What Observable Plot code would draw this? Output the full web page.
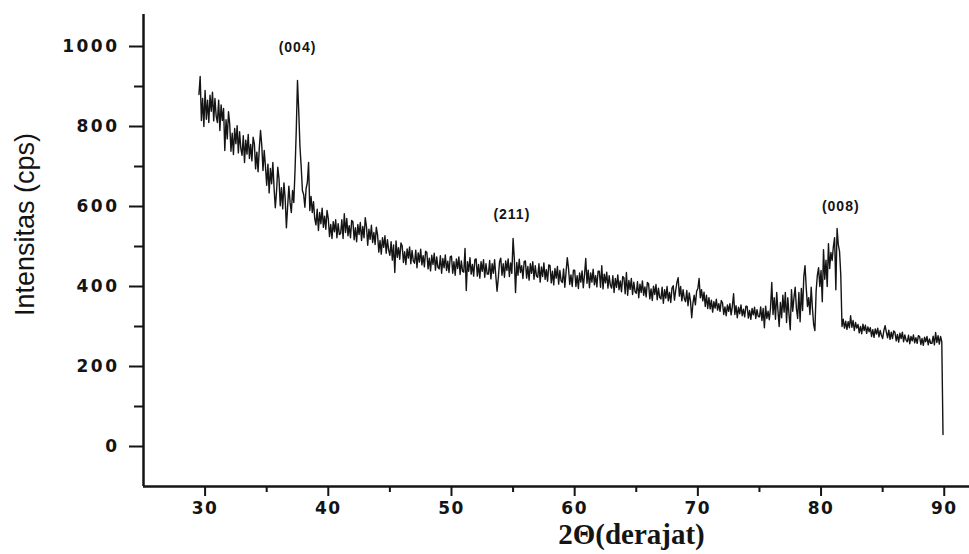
<!DOCTYPE html>
<html>
<head>
<meta charset="utf-8">
<script src="https://cdn.jsdelivr.net/npm/d3@7"></script>
<script src="https://cdn.jsdelivr.net/npm/@observablehq/plot@0.6"></script>
<style>
  html, body { margin: 0; padding: 0; background: #fff; }
  #chart svg { display: block; }
  g[aria-label="y-axis tick label"] text { letter-spacing: 2.5px; }
  g[aria-label="x-axis tick label"] text { letter-spacing: 1.5px; }
  g.peak-labels text { letter-spacing: 1px; }
</style>
</head>
<body>
<div id="chart"></div>
<script>
// XRD pattern, sampled every 0.1 degree starting at 29.5
const startAngle = 29.5;
const stepAngle = 0.1;
const intensity = [
880, 925, 815, 870, 800,
890, 818, 866, 810, 878, 838, 886, 814, 870, 826,
810, 866, 790, 854, 815, 845, 740, 817, 769, 837,
806, 738, 783, 730, 795, 757, 802, 734, 787, 745,
728, 777, 710, 766, 731, 780, 720, 755, 714, 773,
757, 694, 736, 687, 746, 790, 753, 690, 740, 700,
653, 706, 634, 695, 657, 710, 645, 597, 638, 698,
670, 602, 647, 594, 659, 620, 547, 600, 651, 609,
585, 640, 610, 690, 790, 915, 840, 750, 700, 640,
630, 598, 645, 660, 710, 590, 625, 585, 612, 570,
554, 593, 540, 585, 557, 596, 548, 576, 543, 590,
570, 525, 555, 520, 562, 537, 567, 522, 557, 530,
532, 567, 520, 582, 535, 570, 527, 552, 522, 565,
562, 517, 547, 512, 555, 530, 560, 515, 550, 522,
572, 550, 503, 543, 518, 553, 510, 535, 505, 548,
529, 486, 515, 481, 522, 498, 527, 483, 517, 491,
478, 512, 466, 504, 435, 514, 473, 497, 468, 509,
501, 460, 487, 455, 494, 471, 499, 457, 490, 464,
458, 491, 447, 484, 461, 493, 454, 477, 449, 488,
485, 444, 471, 439, 478, 455, 483, 441, 474, 448,
444, 477, 433, 470, 447, 479, 440, 463, 435, 474,
476, 433, 462, 428, 469, 445, 474, 430, 464, 438,
436, 495, 390, 462, 438, 472, 431, 455, 426, 467,
469, 426, 455, 421, 462, 438, 467, 423, 457, 431,
431, 465, 419, 457, 433, 467, 426, 388, 421, 462,
471, 428, 457, 423, 464, 440, 469, 425, 459, 433,
520, 470, 385, 460, 428, 468, 435, 452, 420, 462,
464, 421, 450, 416, 457, 433, 462, 418, 452, 426,
423, 457, 411, 449, 425, 459, 418, 442, 413, 454,
452, 409, 438, 404, 445, 421, 450, 406, 440, 414,
410, 444, 398, 436, 472, 446, 405, 429, 400, 441,
441, 400, 427, 395, 434, 411, 439, 397, 430, 470,
408, 441, 397, 434, 411, 443, 404, 427, 399, 438,
438, 398, 452, 394, 431, 409, 436, 396, 427, 403,
396, 427, 385, 420, 398, 429, 392, 414, 387, 425,
422, 382, 435, 378, 415, 393, 420, 380, 411, 387,
383, 412, 372, 406, 385, 414, 378, 399, 374, 410,
407, 369, 394, 365, 401, 380, 405, 367, 396, 373,
369, 398, 358, 392, 371, 400, 364, 385, 360, 396,
402, 366, 390, 410, 422, 376, 400, 364, 392, 370,
362, 390, 352, 384, 364, 322, 358, 378, 354, 388,
395, 420, 372, 392, 364, 386, 350, 378, 345, 372,
344, 366, 336, 362, 346, 368, 341, 357, 338, 365,
359, 330, 349, 327, 354, 338, 357, 329, 351, 382,
330, 352, 322, 348, 332, 354, 327, 343, 324, 351,
350, 321, 340, 318, 345, 329, 348, 320, 342, 325,
324, 349, 315, 345, 297, 351, 320, 338, 317, 347,
410, 330, 372, 318, 385, 340, 300, 360, 322, 378,
336, 385, 310, 372, 330, 292, 392, 338, 372, 398,
345, 320, 385, 312, 395, 340, 425, 452, 395, 350,
372, 330, 398, 345, 305, 290, 388, 428, 447, 400,
440, 362, 492, 418, 466, 400, 507, 445, 485, 465,
500, 522, 392, 545, 505, 488, 430, 300, 318, 296,
313, 293, 312, 297, 327, 298, 315, 290, 310, 296,
305, 284, 300, 282, 306, 290, 303, 283, 299, 287,
297, 275, 292, 273, 294, 281, 296, 274, 290, 278,
270, 290, 302, 286, 272, 291, 268, 286, 270, 289,
285, 264, 280, 261, 283, 270, 286, 262, 279, 266,
262, 278, 257, 275, 264, 279, 259, 272, 258, 277,
275, 255, 270, 253, 273, 262, 275, 254, 269, 258,
258, 276, 254, 285, 260, 277, 256, 275, 262, 30
];

// Peak annotations
const peakLabels = ["(004)", "(211)", "(008)"];
const peakAngles = [37.5, 54.9, 81.6];
const peakLabelY = [997, 580, 600];

// Axis ticks
const xMajorTicks = [30, 40, 50, 60, 70, 80, 90];
const xMinorTicks = [35, 45, 55, 65, 75, 85];
const yMajorTicks = [0, 200, 400, 600, 800, 1000];
const yMinorTicks = [100, 300, 500, 700, 900];

const xLabel = "2Θ(derajat)";
const yLabel = "Intensitas (cps)";

const pattern = intensity.map((v, i) => ({
  angle: +(startAngle + i * stepAngle).toFixed(1),
  value: v
}));
const peaks = peakLabels.map((t, i) => ({label: t, angle: peakAngles[i], value: peakLabelY[i]}));

const ink = "#141414";
const chart = Plot.plot({
  width: 969,
  height: 554,
  marginLeft: 143,
  marginRight: 0,
  marginTop: 14,
  marginBottom: 68,
  x: {domain: [25, 92.05]},
  y: {domain: [-100, 1080]},
  style: {fontFamily: "DejaVu Sans, sans-serif", background: "#fff", color: ink},
  marks: [
    Plot.axisY({ticks: yMajorTicks, tickSize: 14, tickPadding: 10, fontSize: 17, fontWeight: "bold", strokeWidth: 2, label: null, tickFormat: d => String(d)}),
    Plot.axisY({ticks: yMinorTicks, tickSize: 9, strokeWidth: 2, label: null, tickFormat: () => ""}),
    Plot.axisX({ticks: xMajorTicks, tickSize: 10, tickPadding: 5, fontSize: 17, fontWeight: "bold", strokeWidth: 2, label: null, tickFormat: d => String(d)}),
    Plot.axisX({ticks: xMinorTicks, tickSize: 6, strokeWidth: 2, label: null, tickFormat: () => ""}),
    Plot.ruleX([25], {stroke: ink, strokeWidth: 2.5}),
    Plot.ruleY([-100], {stroke: ink, strokeWidth: 2.5}),
    Plot.line(pattern, {x: "angle", y: "value", stroke: ink, strokeWidth: 1.4}),
    Plot.text(peaks, {x: "angle", y: "value", text: "label", fontSize: 14, fontWeight: "bold", fontFamily: "Liberation Sans, Arial, sans-serif", fill: ink, className: "peak-labels"}),
    Plot.text([yLabel], {frameAnchor: "left", rotate: -90, dx: -118, dy: -26, fontSize: 27, fontFamily: "Liberation Sans, Arial, sans-serif", fill: ink, textAnchor: "middle", lineAnchor: "middle"}),
    Plot.text([xLabel], {frameAnchor: "bottom", dx: 75, dy: 57, fontSize: 29, fontWeight: "bold", fontFamily: "Liberation Serif, Times New Roman, serif", fill: ink, textAnchor: "middle", lineAnchor: "bottom"})
  ]
});
document.getElementById("chart").appendChild(chart);
</script>
</body>
</html>
